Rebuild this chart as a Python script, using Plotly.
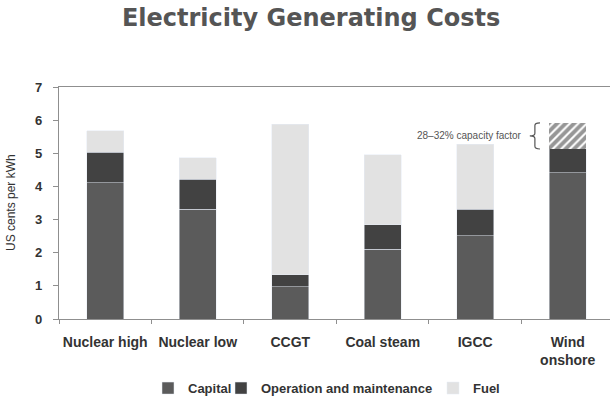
import plotly.graph_objects as go

# Levelised generating costs, US cents per kWh
categories = ["Nuclear high", "Nuclear low", "CCGT", "Coal steam", "IGCC", "Wind<br>onshore"]
capital = [4.11, 3.31, 0.98, 2.11, 2.51, 4.41]
operation_maintenance = [0.92, 0.91, 0.36, 0.73, 0.80, 0.72]
fuel = [0.65, 0.65, 4.54, 2.11, 1.96, 0.0]
# extra cost band for wind at 28-32% capacity factor
wind_capacity_band = [0, 0, 0, 0, 0, 0.79]
y_ticks = [0, 1, 2, 3, 4, 5, 6, 7]

x = list(range(len(categories)))
bar_w = 0.405

fig = go.Figure()
fig.add_bar(x=x, y=capital, name="Capital", marker_color="#5b5b5b", width=bar_w,
            legend="legend")
fig.add_bar(x=x, y=operation_maintenance, name="Operation and maintenance",
            marker_color="#424242", width=bar_w, legend="legend2")
fig.add_bar(x=x, y=fuel, name="Fuel", marker_color="#e2e2e2", width=bar_w,
            legend="legend3")
fig.add_bar(x=x, y=wind_capacity_band, showlegend=False, width=bar_w,
            marker=dict(color="white", line=dict(width=0),
                        pattern=dict(shape="/", fgcolor="#2e2e2e", bgcolor="white",
                                     size=6, solidity=0.65)))

# brace beside the wind capacity band
wi = len(categories) - 1
band_lo = capital[wi] + operation_maintenance[wi]
band_hi = band_lo + wind_capacity_band[wi]
band_mid = (band_lo + band_hi) / 2
xr, xm, xl = wi - 0.30, wi - 0.355, wi - 0.41
d = 0.08
brace = (f"M {xr},{band_hi} Q {xm},{band_hi} {xm},{band_hi - d} "
         f"L {xm},{band_mid + d} Q {xm},{band_mid} {xl},{band_mid} "
         f"Q {xm},{band_mid} {xm},{band_mid - d} "
         f"L {xm},{band_lo + d} Q {xm},{band_lo} {xr},{band_lo}")
fig.add_shape(type="path", path=brace, xref="x", yref="y",
              line=dict(color="#555555", width=1.2))
fig.add_annotation(x=wi - 0.475, y=band_mid, xref="x", yref="y",
                   text="28–32% capacity factor", showarrow=False,
                   xanchor="right", yanchor="middle",
                   font=dict(family="Liberation Sans, Arial", size=10, color="#555555"))

# y-axis title
fig.add_annotation(x=0, y=0.5, xref="paper", yref="paper", xshift=-48,
                   text="US cents per kWh", textangle=-90, showarrow=False,
                   xanchor="center", yanchor="middle",
                   font=dict(family="Liberation Sans, Arial", size=12, color="#333333"))

plot_left, plot_w = 59, 551


def legend_at(px_left):
    return dict(orientation="h", x=(px_left - plot_left) / plot_w, xanchor="left",
                y=-0.298, yanchor="middle", itemwidth=30, bgcolor="rgba(0,0,0,0)",
                font=dict(size=13, color="#333333", weight="bold"))


fig.update_layout(
    barmode="stack",
    width=610, height=399,
    margin=dict(l=plot_left, r=0, t=87, b=80, autoexpand=False),
    paper_bgcolor="white", plot_bgcolor="white",
    title=dict(text="<b>Electricity Generating Costs</b>", x=0.51, xanchor="center",
               y=0.955, yanchor="middle",
               font=dict(family="DejaVu Sans", size=24, color="#555555")),
    font=dict(family="Liberation Sans, Arial", color="#333333"),
    legend=legend_at(148),
    legend2=legend_at(221),
    legend3=legend_at(433),
    showlegend=True,
)
fig.update_xaxes(
    range=[-0.5, 5.457],
    tickvals=x, ticktext=[f"<b>{c}</b>" for c in categories],
    ticks="", tickfont=dict(size=14, color="#333333"), ticklabelstandoff=10,
    showline=True, linecolor="#8f8f8f", linewidth=1.2, mirror=True,
    showgrid=False, zeroline=False,
    minor=dict(tickvals=[i - 0.5 for i in range(len(categories) + 1)],
               ticks="outside", ticklen=4, tickcolor="#8f8f8f", showgrid=False),
)
fig.update_yaxes(
    range=[0, 7], tickvals=y_ticks, ticktext=[f"<b>{v}</b>" for v in y_ticks],
    ticks="outside", ticklen=5, tickcolor="#8f8f8f", ticklabelstandoff=8,
    tickfont=dict(size=13, color="#333333"),
    showline=True, linecolor="#8f8f8f", linewidth=1.2,
    showgrid=False, zeroline=False,
)

fig.write_html("out.html")
